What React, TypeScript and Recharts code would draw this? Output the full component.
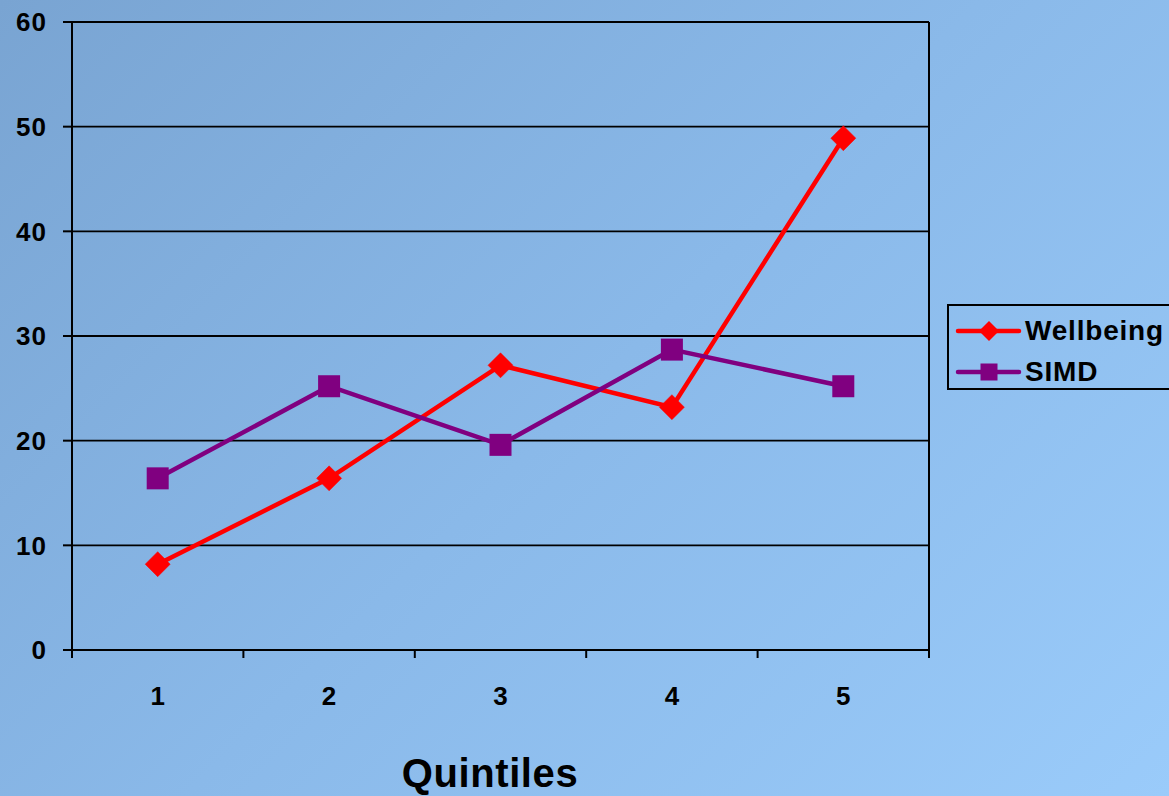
import React from 'react';
import { LineChart, Line, XAxis, YAxis, CartesianGrid, ReferenceLine, Legend } from 'recharts';

const quintiles = [1, 2, 3, 4, 5];
const wellbeing = [8.2, 16.4, 27.2, 23.2, 48.9];
const simd = [16.4, 25.2, 19.6, 28.7, 25.2];
const yTicks = [0, 10, 20, 30, 40, 50, 60];
const xTicks = [0.5, 1, 1.5, 2, 2.5, 3, 3.5, 4, 4.5, 5, 5.5];

const data = quintiles.map((q, i) => ({ q, Wellbeing: wellbeing[i], SIMD: simd[i] }));

const FONT = "Arial, 'Liberation Sans', sans-serif";
const RED = '#ff0000';
const PURPLE = '#800080';

const DiamondDot = (props: any) => {
  const { cx, cy } = props;
  if (cx == null || cy == null) return null;
  const r = 12.5;
  return (
    <polygon
      points={`${cx},${cy - r} ${cx + r},${cy} ${cx},${cy + r} ${cx - r},${cy}`}
      fill={RED}
      stroke={RED}
      strokeWidth={0.5}
    />
  );
};

const SquareDot = (props: any) => {
  const { cx, cy } = props;
  if (cx == null || cy == null) return null;
  const s = 22;
  return <rect x={cx - s / 2} y={cy - s / 2} width={s} height={s} fill={PURPLE} />;
};

const XTick = (props: any) => {
  const { x, y, payload } = props;
  const v = payload.value;
  if (Number.isInteger(v)) {
    return (
      <text x={x} y={y + 46} textAnchor="middle" dominantBaseline="central" fontFamily={FONT} fontWeight="bold" fontSize={26} fill="#000">
        {v}
      </text>
    );
  }
  return <line x1={x} x2={x} y1={y} y2={y + 8} stroke="#000" strokeWidth={2} />;
};

const series = [
  { name: 'Wellbeing', color: RED, shape: 'diamond' },
  { name: 'SIMD', color: PURPLE, shape: 'square' },
];

const LegendContent = () => (
  <div
    style={{
      width: 240,
      height: 86,
      border: '2px solid #000',
      boxSizing: 'border-box',
      fontFamily: FONT,
      fontWeight: 'bold',
      fontSize: 28,
      letterSpacing: 0.8,
      color: '#000',
      paddingTop: 6,
    }}
  >
    {series.map((s) => (
      <div key={s.name} style={{ display: 'flex', alignItems: 'center', height: 37, marginBottom: 4 }}>
        <svg width={76} height={30} style={{ marginLeft: 2 }}>
          <line x1={7} x2={68} y1={15} y2={15} stroke={s.color} strokeWidth={4.5} strokeLinecap="round" />
          {s.shape === 'diamond' ? (
            <polygon points="38,5 48,15 38,25 28,15" fill={s.color} />
          ) : (
            <rect x={29.5} y={6.5} width={17} height={17} fill={s.color} />
          )}
        </svg>
        <span style={{ marginLeft: -2 }}>{s.name}</span>
      </div>
    ))}
  </div>
);

export default function App() {
  return (
    <div
      style={{
        position: 'fixed',
        left: 0,
        top: 0,
        width: 1169,
        height: 796,
        overflow: 'hidden',
        background: 'linear-gradient(135deg, #79a4d2 0%, #8ab9e9 50%, #9acbfa 100%)',
      }}
    >
      <LineChart
        width={1169}
        height={796}
        data={data}
        margin={{ top: 22, right: 240, bottom: 106, left: 0 }}
      >
        <CartesianGrid vertical={false} horizontal={true} stroke="#000" strokeWidth={1.8} strokeOpacity={1} />
        <XAxis
          dataKey="q"
          type="number"
          domain={[0.5, 5.5]}
          ticks={xTicks}
          interval={0}
          height={40}
          tickSize={0}
          tickMargin={0}
          tickLine={false}
          axisLine={{ stroke: '#000', strokeWidth: 2 }}
          tick={<XTick />}
        />
        <YAxis
          type="number"
          domain={[0, 60]}
          ticks={yTicks}
          interval={0}
          width={72}
          tickSize={9}
          tickMargin={16}
          axisLine={{ stroke: '#000', strokeWidth: 2 }}
          tickLine={{ stroke: '#000', strokeWidth: 2 }}
          tick={{ fill: '#000', fontFamily: FONT, fontWeight: 'bold', fontSize: 26, letterSpacing: 1 }}
        />
        <ReferenceLine x={5.5} stroke="#000" strokeWidth={2} />
        <Line
          dataKey="Wellbeing"
          stroke={RED}
          strokeWidth={4.5}
          dot={<DiamondDot />}
          activeDot={false}
          isAnimationActive={false}
        />
        <Line
          dataKey="SIMD"
          stroke={PURPLE}
          strokeWidth={4.5}
          dot={<SquareDot />}
          activeDot={false}
          isAnimationActive={false}
        />
        <Legend
          layout="vertical"
          align="center"
          verticalAlign="middle"
          content={<LegendContent />}
          wrapperStyle={{ position: 'absolute', left: 947, top: 304, width: 240, height: 86 }}
        />
      </LineChart>
      <div
        style={{
          position: 'absolute',
          left: 380,
          top: 748,
          width: 220,
          textAlign: 'center',
          fontFamily: FONT,
          fontWeight: 'bold',
          fontSize: 40,
          letterSpacing: 0.6,
          lineHeight: '50px',
          color: '#000',
        }}
      >
        Quintiles
      </div>
    </div>
  );
}
